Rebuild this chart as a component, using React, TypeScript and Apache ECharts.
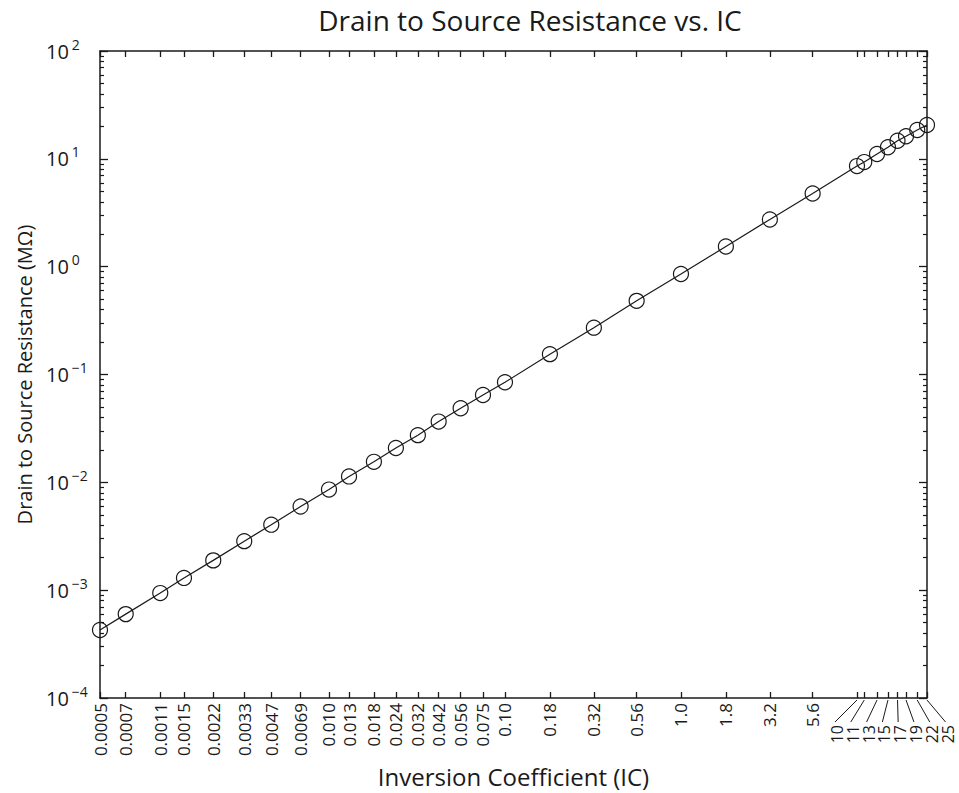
import React, { useEffect, useRef } from "react";
import * as echarts from "echarts";

// Inversion coefficient (x) tick/label values
const icValues = [
  0.0005, 0.0007, 0.0011, 0.0015, 0.0022, 0.0033, 0.0047, 0.0069, 0.01, 0.013,
  0.018, 0.024, 0.032, 0.042, 0.056, 0.075, 0.1, 0.18, 0.32, 0.56, 1.0, 1.8,
  3.2, 5.6, 10, 11, 13, 15, 17, 19, 22, 25,
];
const icLabels = [
  "0.0005", "0.0007", "0.0011", "0.0015", "0.0022", "0.0033", "0.0047", "0.0069",
  "0.010", "0.013", "0.018", "0.024", "0.032", "0.042", "0.056", "0.075", "0.10",
  "0.18", "0.32", "0.56", "1.0", "1.8", "3.2", "5.6", "10", "11", "13", "15",
  "17", "19", "22", "25",
];
// Drain to source resistance (MΩ)
const rdsValues = [
  0.000427, 0.0006, 0.00094, 0.0013, 0.00189, 0.00285, 0.00405, 0.00597, 0.00857,
  0.01135, 0.0155, 0.0208, 0.0274, 0.0366, 0.0487, 0.0646, 0.0848, 0.1545, 0.272,
  0.482, 0.855, 1.54, 2.74, 4.77, 8.57, 9.33, 11.1, 12.8, 14.7, 16.2, 18.5, 20.6,
];
// x labels drawn spread out with leader lines
const spreadLabelValues = [10, 11, 13, 15, 17, 19, 22, 25];
// y decades and minor multipliers
const yDecades = [1e-4, 1e-3, 1e-2, 1e-1, 1, 10];
const yMinorMultipliers = [2, 3, 4, 5, 6, 7, 8, 9];

const FONT = "Open Sans";
const INK = "#1a1a1a";

export default function App() {
  const ref = useRef<HTMLDivElement>(null);

  useEffect(() => {
    if (!ref.current) return;
    const chart = echarts.init(ref.current, null, { renderer: "svg" });

    const yMinor: number[] = [];
    yDecades.forEach((d) => yMinorMultipliers.forEach((m) => yMinor.push(+(d * m).toPrecision(3))));

    const mainLabelVals = icValues.filter((v) => !spreadLabelValues.includes(v));
    const labelFor = (v: number) => {
      let best = 0;
      let bd = Infinity;
      icValues.forEach((c, i) => {
        const d = Math.abs(Math.log10(c) - Math.log10(v));
        if (d < bd) {
          bd = d;
          best = i;
        }
      });
      return bd < 0.01 ? icLabels[best] : "";
    };
    const supFmt = (v: number) => {
      const e = Math.round(Math.log10(v));
      const s = e < 0 ? "\u2212" + String(-e) : String(e);
      return `{b|10}{e|${s}}`;
    };

    const axisLine = { show: true, lineStyle: { color: INK, width: 1.5 } };
    const xBase = { type: "log" as const, logBase: 10, min: 0.0005, max: 25, splitLine: { show: false } };
    const yBase = { type: "log" as const, logBase: 10, min: 1e-4, max: 100, splitLine: { show: false } };

    chart.setOption({
      animation: false,
      backgroundColor: "#ffffff",
      textStyle: { fontFamily: FONT },
      grid: { left: 100, right: 32, top: 51, bottom: 90 },
      xAxis: [
        {
          ...xBase,
          position: "bottom",
          name: "Inversion Coefficient (IC)",
          nameLocation: "middle",
          nameGap: 54,
          nameTextStyle: { fontFamily: FONT, fontSize: 24, color: INK },
          axisLine,
          axisTick: { show: true, inside: true, length: 6, customValues: icValues, lineStyle: { color: INK, width: 1.3 } },
          axisLabel: {
            show: true,
            customValues: mainLabelVals,
            rotate: 90,
            margin: 5,
            fontFamily: FONT,
            fontSize: 17,
            color: INK,
            formatter: (v: number) => labelFor(v),
          },
          minorTick: { show: false },
        },
        {
          ...xBase,
          position: "top",
          axisLine,
          axisTick: { show: true, inside: true, length: 6, customValues: icValues, lineStyle: { color: INK, width: 1.3 } },
          axisLabel: { show: false },
        },
      ],
      yAxis: [
        {
          ...yBase,
          position: "left",
          interval: 1,
          name: "Drain to Source Resistance (M\u03A9)",
          nameLocation: "middle",
          nameGap: 66,
          nameTextStyle: { fontFamily: FONT, fontSize: 20, color: INK },
          axisLine,
          axisTick: { show: true, inside: true, length: 8, lineStyle: { color: INK, width: 1.3 } },
          axisLabel: {
            show: true,
            align: "left",
            margin: 54,
            color: INK,
            formatter: supFmt,
            rich: {
              b: { fontFamily: FONT, fontSize: 20, color: INK },
              e: { fontFamily: FONT, fontSize: 14, color: INK, padding: [0, 0, 14, 3] },
            },
          },
        },
        {
          ...yBase,
          position: "left",
          axisLine: { show: false },
          axisTick: { show: true, inside: true, length: 4, customValues: yMinor, lineStyle: { color: INK, width: 1.2 } },
          axisLabel: { show: false },
        },
        {
          ...yBase,
          position: "right",
          interval: 1,
          axisLine,
          axisTick: { show: true, inside: true, length: 8, lineStyle: { color: INK, width: 1.3 } },
          axisLabel: { show: false },
        },
        {
          ...yBase,
          position: "right",
          axisLine: { show: false },
          axisTick: { show: true, inside: true, length: 4, customValues: yMinor, lineStyle: { color: INK, width: 1.2 } },
          axisLabel: { show: false },
        },
      ],
      series: [
        {
          type: "line",
          xAxisIndex: 0,
          yAxisIndex: 0,
          data: icValues.map((x, i) => [x, rdsValues[i]]),
          symbol: "circle",
          symbolSize: 15,
          lineStyle: { color: INK, width: 1.2 },
          itemStyle: { color: "rgba(0,0,0,0)", borderColor: INK, borderWidth: 1.2 },
          clip: false,
        },
      ],
    });

    // spread labels with leader lines for the crowded high-IC ticks
    const axisBottom = chart.convertToPixel({ yAxisIndex: 0 }, 1e-4) as number;
    const firstX = (chart.convertToPixel({ xAxisIndex: 0 }, spreadLabelValues[0]) as number) - 20;
    const step = 15.8;
    const graphics: any[] = [
      {
        type: "text",
        x: 530,
        y: 6,
        style: {
          text: "Drain to Source Resistance vs. IC",
          fontFamily: FONT,
          fontSize: 28,
          fill: INK,
          textAlign: "center",
          textVerticalAlign: "top",
        },
      },
    ];
    spreadLabelValues.forEach((v, i) => {
      const tx = chart.convertToPixel({ xAxisIndex: 0 }, v) as number;
      const lx = firstX + i * step;
      graphics.push({
        type: "line",
        shape: { x1: tx, y1: axisBottom + 2, x2: lx - 2, y2: axisBottom + 24 },
        style: { stroke: INK, lineWidth: 1 },
      });
      graphics.push({
        type: "text",
        x: lx,
        y: axisBottom + 27,
        rotation: Math.PI / 2,
        style: {
          text: labelFor(v),
          fontFamily: FONT,
          fontSize: 16,
          fill: INK,
          textAlign: "right",
          textVerticalAlign: "middle",
        },
      });
    });
    chart.setOption({ graphic: graphics });

    return () => chart.dispose();
  }, []);

  return <div ref={ref} style={{ width: 959, height: 793, position: "absolute", left: 0, top: 0 }} />;
}
